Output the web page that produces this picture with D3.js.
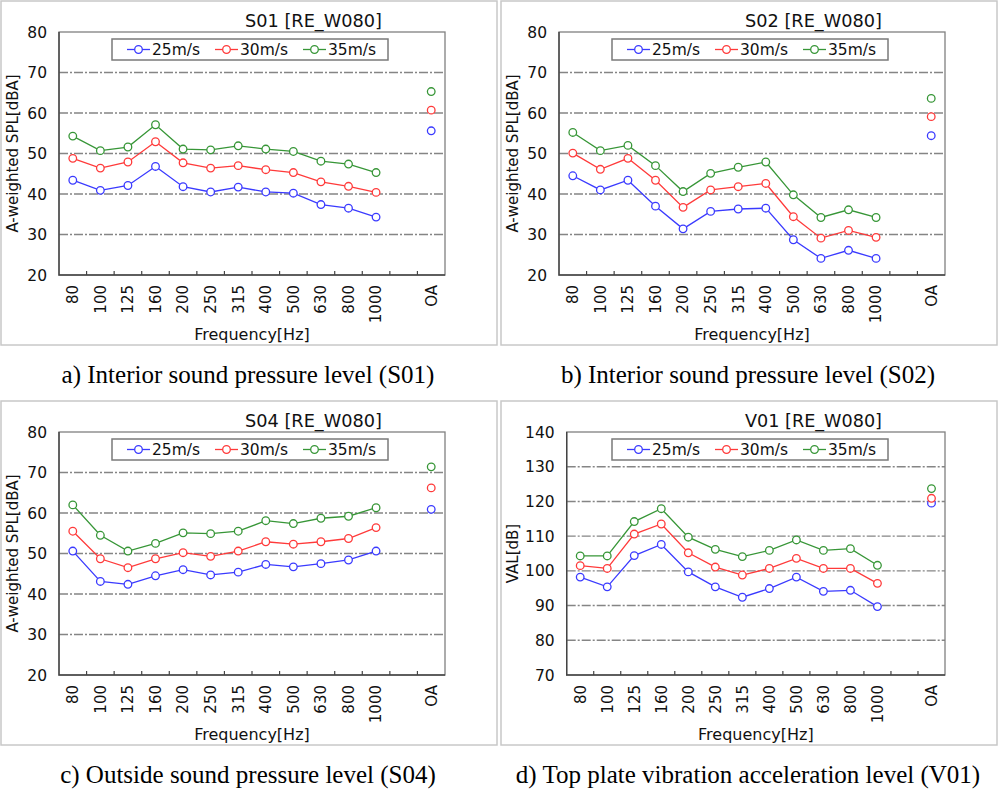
<!DOCTYPE html>
<html>
<head>
<meta charset="utf-8">
<script src="https://cdn.jsdelivr.net/npm/d3@7"></script>
<style>
    body { margin: 0; background: #fff; }
    svg { display: block; }
</style>
</head>
<body>
<script>
// Bandes de fréquence (axe X)
const freqs = ['80', '100', '125', '160', '200', '250', '315', '400', '500', '630', '800', '1000']
const speeds = ['25m/s', '30m/s', '35m/s']
const colors = ['#3a3aff', '#ff3a3a', '#379637']

// S01 - niveau intérieur
const s01Wind25 = [43.4, 40.9, 42.1, 46.8, 41.8, 40.5, 41.7, 40.5, 40.2, 37.4, 36.5, 34.3]
const s01Wind30 = [48.8, 46.4, 47.9, 52.9, 47.7, 46.4, 47.0, 46.0, 45.3, 43.0, 41.9, 40.4]
const s01Wind35 = [54.3, 50.7, 51.6, 57.1, 51.1, 50.9, 51.9, 51.1, 50.5, 48.1, 47.4, 45.3]
const s01OA = [55.6, 60.7, 65.3]

// S02 - niveau intérieur
const s02Wind25 = [44.5, 41.0, 43.4, 37.0, 31.4, 35.7, 36.3, 36.5, 28.7, 24.1, 26.1, 24.1]
const s02Wind30 = [50.1, 46.1, 48.8, 43.4, 36.7, 41.0, 41.8, 42.6, 34.4, 29.1, 31.0, 29.3]
const s02Wind35 = [55.2, 50.7, 52.0, 47.0, 40.6, 45.1, 46.6, 47.9, 39.8, 34.2, 36.1, 34.2]
const s02OA = [54.4, 59.1, 63.6]

// S04 - niveau extérieur
const s04Wind25 = [50.6, 43.1, 42.4, 44.5, 46.0, 44.7, 45.4, 47.3, 46.7, 47.5, 48.4, 50.6]
const s04Wind30 = [55.5, 48.7, 46.5, 48.7, 50.2, 49.3, 50.6, 52.9, 52.3, 52.9, 53.7, 56.4]
const s04Wind35 = [62.0, 54.5, 50.6, 52.5, 55.1, 54.9, 55.5, 58.1, 57.4, 58.7, 59.2, 61.3]
const s04OA = [60.9, 66.2, 71.4]

// V01 - vibration de la table
const v01Wind25 = [98.2, 95.4, 104.4, 107.6, 99.7, 95.4, 92.4, 94.9, 98.2, 94.1, 94.4, 89.7]
const v01Wind30 = [101.5, 100.7, 110.6, 113.5, 105.2, 101.1, 98.8, 100.7, 103.6, 100.7, 100.7, 96.4]
const v01Wind35 = [104.3, 104.3, 114.2, 117.9, 109.7, 106.2, 104.1, 105.9, 108.9, 105.9, 106.4, 101.6]
const v01OA = [119.5, 120.9, 123.7]

const panels = [
    { ox: 0, oy: 0, name: 'S01', yLabel: 'A-weighted SPL[dBA]', domain: [20, 80], left: 59,
      series: [s01Wind25, s01Wind30, s01Wind35], oa: s01OA, caption: 'a) Interior sound pressure level (S01)' },
    { ox: 500, oy: 0, name: 'S02', yLabel: 'A-weighted SPL[dBA]', domain: [20, 80], left: 59,
      series: [s02Wind25, s02Wind30, s02Wind35], oa: s02OA, caption: 'b) Interior sound pressure level (S02)' },
    { ox: 0, oy: 400, name: 'S04', yLabel: 'A-weighted SPL[dBA]', domain: [20, 80], left: 59,
      series: [s04Wind25, s04Wind30, s04Wind35], oa: s04OA, caption: 'c) Outside sound pressure level (S04)' },
    { ox: 500, oy: 400, name: 'V01', yLabel: 'VAL[dB]', domain: [70, 140], left: 66.7,
      series: [v01Wind25, v01Wind30, v01Wind35], oa: v01OA, caption: 'd) Top plate vibration acceleration level (V01)' }
]

const font = '"DejaVu Sans", sans-serif'
const ink = '#111'

const svg = d3.select('body')
    .append('svg')
    .attr('width', 1000)
    .attr('height', 791)

panels.forEach(p => drawPanel(p))

function drawPanel(p) {
    const g = svg.append('g').attr('transform', `translate(${p.ox}, ${p.oy})`)
    const top = 32, bottom = 275, right = 445

    // Cadre de la cellule
    g.append('rect')
        .attr('x', 1).attr('y', 1)
        .attr('width', 496).attr('height', 344)
        .attr('fill', 'none')
        .attr('stroke', '#c8c8c8')
        .attr('stroke-width', 1.5)

    const x = d3.scaleBand()
        .domain([...freqs, 'gap', 'OA'])
        .range([p.left, right])
    const y = d3.scaleLinear()
        .domain(p.domain)
        .range([bottom, top])
    const yTicks = d3.range(p.domain[0], p.domain[1] + 1, 10)
    const cx = d => x(d) + x.bandwidth() / 2

    // Lignes de grille (trait-point)
    g.append('g').selectAll('line')
        .data(yTicks.slice(1, -1))
        .join('line')
        .attr('x1', p.left).attr('x2', right)
        .attr('y1', d => y(d)).attr('y2', d => y(d))
        .attr('stroke', '#858585')
        .attr('stroke-width', 1.4)
        .attr('stroke-dasharray', '9,2,2,2')

    // Cadre du graphe
    g.append('rect')
        .attr('x', p.left).attr('y', top)
        .attr('width', right - p.left).attr('height', bottom - top)
        .attr('fill', 'none')
        .attr('stroke', '#808080')
        .attr('stroke-width', 1.3)
    g.append('path')
        .attr('d', `M${p.left},${top}V${bottom}H${right}`)
        .attr('fill', 'none')
        .attr('stroke', '#444')
        .attr('stroke-width', 1.4)

    // Petites graduations entre les bandes
    g.append('g').selectAll('line')
        .data(x.domain().slice(1))
        .join('line')
        .attr('x1', d => x(d)).attr('x2', d => x(d))
        .attr('y1', bottom).attr('y2', bottom - 4)
        .attr('stroke', '#444')
        .attr('stroke-width', 1.2)

    // Étiquettes de l'axe Y
    g.append('g').selectAll('text')
        .data(yTicks)
        .join('text')
        .attr('x', p.left - 12)
        .attr('y', d => y(d))
        .attr('dy', '0.36em')
        .attr('text-anchor', 'end')
        .attr('fill', ink)
        .style('font', `15.5px ${font}`)
        .text(d => d)

    // Étiquettes de l'axe X (verticales)
    g.append('g').selectAll('text')
        .data(x.domain().filter(d => d != 'gap'))
        .join('text')
        .attr('transform', d => `translate(${cx(d)}, ${bottom + 10}) rotate(-90)`)
        .attr('dy', '0.36em')
        .attr('text-anchor', 'end')
        .attr('fill', ink)
        .style('font', `15px ${font}`)
        .text(d => d)

    // Titres des axes
    g.append('text')
        .attr('transform', `translate(13, ${(top + bottom) / 2}) rotate(-90)`)
        .attr('dy', '0.36em')
        .attr('text-anchor', 'middle')
        .attr('fill', ink)
        .style('font', `15px ${font}`)
        .text(p.yLabel)

    g.append('text')
        .attr('x', (p.left + right) / 2)
        .attr('y', 340)
        .attr('text-anchor', 'middle')
        .attr('fill', ink)
        .style('font', `16px ${font}`)
        .text('Frequency[Hz]')

    // Titre du graphe, calé sur la largeur de l'original
    g.append('text')
        .attr('x', 245)
        .attr('y', 27)
        .attr('fill', ink)
        .attr('textLength', 137)
        .attr('lengthAdjust', 'spacingAndGlyphs')
        .style('font', `18px ${font}`)
        .text(`${p.name} [RE_W080]`)

    // Courbes + marqueurs
    p.series.forEach((values, i) => {
        const line = d3.line()
            .x((d, j) => cx(freqs[j]))
            .y(d => y(d))
        g.append('path')
            .datum(values)
            .attr('d', line)
            .attr('fill', 'none')
            .attr('stroke', colors[i])
            .attr('stroke-width', 1.3)
        g.append('g').selectAll('circle')
            .data(values)
            .join('circle')
            .attr('cx', (d, j) => cx(freqs[j]))
            .attr('cy', d => y(d))
            .attr('r', 3.8)
            .attr('fill', '#fff')
            .attr('stroke', colors[i])
            .attr('stroke-width', 1.3)
    })

    // Valeurs globales (OA), sans ligne
    g.append('g').selectAll('circle')
        .data(p.oa)
        .join('circle')
        .attr('cx', cx('OA'))
        .attr('cy', d => y(d))
        .attr('r', 3.8)
        .attr('fill', '#fff')
        .attr('stroke', (d, i) => colors[i])
        .attr('stroke-width', 1.3)

    // Légende
    const legend = g.append('g')
    legend.append('rect')
        .attr('x', 112).attr('y', 39)
        .attr('width', 276).attr('height', 21)
        .attr('fill', '#fff')
        .attr('stroke', '#7a7a7a')
        .attr('stroke-width', 1.5)
    speeds.forEach((s, i) => {
        const lx = 127 + i * 88
        legend.append('line')
            .attr('x1', lx).attr('x2', lx + 23)
            .attr('y1', 49.5).attr('y2', 49.5)
            .attr('stroke', colors[i])
            .attr('stroke-width', 1.3)
        legend.append('circle')
            .attr('cx', lx + 11.5).attr('cy', 49.5)
            .attr('r', 3.8)
            .attr('fill', '#fff')
            .attr('stroke', colors[i])
            .attr('stroke-width', 1.3)
        legend.append('text')
            .attr('x', lx + 25)
            .attr('y', 49.5)
            .attr('dy', '0.36em')
            .attr('fill', ink)
            .style('font', `15.5px ${font}`)
            .text(s)
    })

    // Légende sous le graphe
    g.append('text')
        .attr('x', 248)
        .attr('y', 383)
        .attr('text-anchor', 'middle')
        .attr('fill', '#000')
        .style('font', '25px "Liberation Serif", "Times New Roman", serif')
        .text(p.caption)
}
</script>
</body>
</html>
